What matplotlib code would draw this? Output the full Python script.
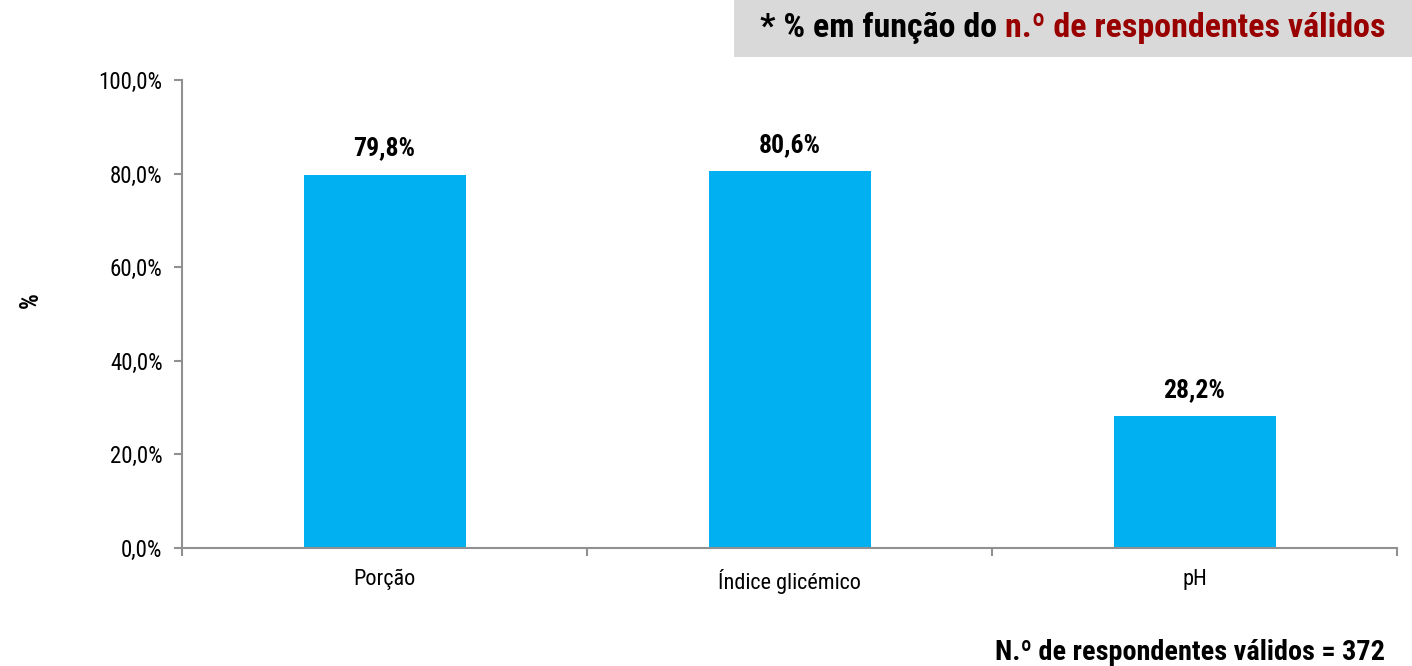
"""
Bar chart: % de respondentes por informação
"""

# imports
import matplotlib.pyplot as plt
from matplotlib.offsetbox import TextArea, HPacker, AnchoredOffsetbox

# data
categories = ['Porção', 'Índice glicémico', 'pH']
values = [79.8, 80.6, 28.2]
yticks = [0, 20, 40, 60, 80, 100]
n_valid = 372

plt.rcParams['font.family'] = ['Roboto Condensed', 'Liberation Sans', 'DejaVu Sans']

fig = plt.figure(figsize=(14.12, 6.66), dpi=100)
ax = fig.add_axes([0.1289, 0.1772, 0.8605, 0.7027])

x = list(range(len(categories)))
ax.bar(x, values, width=0.4, color='#00B0F0', zorder=2)

# value labels
for xi, v in zip(x, values):
    ax.text(xi, v + 3, f'{v:.1f}%'.replace('.', ','), ha='center', va='bottom',
            fontsize=18.5, fontweight='bold')

# axes
ax.set_xlim(-0.5, len(categories) - 0.5)
ax.set_ylim(0, 100)
ax.set_yticks(yticks)
ax.set_yticklabels([f'{t:.1f}%'.replace('.', ',') for t in yticks], fontsize=16.5)
ax.set_xticks(x)
ax.set_xticklabels(categories, fontsize=16)
ax.tick_params(axis='x', length=0, pad=15)
ax.set_xticks([-0.5, 0.5, 1.5, 2.5], minor=True)
ax.tick_params(axis='x', which='minor', length=6, color='#909090', width=1.5)
ax.tick_params(axis='y', length=6, color='#909090', width=1.5, pad=8)

ax.spines['top'].set_visible(False)
ax.spines['right'].set_visible(False)
for s in ['left', 'bottom']:
    ax.spines[s].set_color('#909090')
    ax.spines[s].set_linewidth(1.5)

fig.text(0.022, 0.55, '%', rotation=90, fontsize=18, fontweight='bold',
         ha='center', va='center')

# top note in grey box
box = fig.add_axes([734 / 1412, 1 - 57 / 666, 1 - 734 / 1412, 57 / 666])
box.set_facecolor('#D9D9D9')
box.set_xticks([])
box.set_yticks([])
for s in box.spines.values():
    s.set_visible(False)
t1 = TextArea('* % em função do ', textprops=dict(fontsize=24.5, fontweight='bold', color='black'))
t2 = TextArea('n.º de respondentes válidos', textprops=dict(fontsize=24.5, fontweight='bold', color='#990000'))
pack = HPacker(children=[t1, t2], pad=0, sep=0, align='baseline')
anch = AnchoredOffsetbox(loc='center', child=pack, frameon=False,
                         bbox_to_anchor=(0.5, 0.5), bbox_transform=box.transAxes)
box.add_artist(anch)

# bottom note
fig.text(1385 / 1412, 1 - 653 / 666, f'N.º de respondentes válidos = {n_valid}',
         ha='right', va='center', fontsize=20.3, fontweight='bold')

fig.savefig('out.png', dpi=100)
